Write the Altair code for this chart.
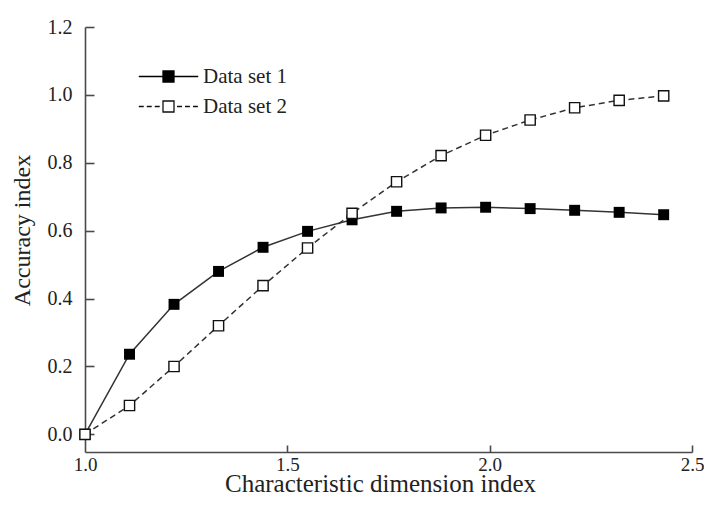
import altair as alt
import pandas as pd

# ---- data ----
x_vals = [1.00, 1.11, 1.22, 1.33, 1.44, 1.55, 1.66, 1.77, 1.88, 1.99, 2.10, 2.21, 2.32, 2.43]
set1 = [0.000, 0.236, 0.383, 0.480, 0.551, 0.598, 0.632, 0.657, 0.667, 0.669, 0.665, 0.660, 0.654, 0.647]
set2 = [0.000, 0.085, 0.200, 0.320, 0.438, 0.549, 0.651, 0.744, 0.821, 0.881, 0.926, 0.962, 0.984, 0.997]
series_names = ["Data set 1", "Data set 2"]
x_ticks = [1.0, 1.5, 2.0, 2.5]
x_inner_ticks = [1.5, 2.0, 2.5]
y_ticks = [0.0, 0.2, 0.4, 0.6, 0.8, 1.0, 1.2]
x_title = "Characteristic dimension index"
y_title = "Accuracy index"

df = pd.DataFrame(
    {"x": x_vals * 2,
     "y": set1 + set2,
     "series": [series_names[0]] * len(x_vals) + [series_names[1]] * len(x_vals)}
)

# ---- style ----
W, H = 607, 425
FONT = "Liberation Serif"
AX = "#4a4a4a"
TXT = "#222222"
LINE = "#333333"

x_scale = alt.Scale(domain=[1.0, 2.5], nice=False, zero=False)
y_scale = alt.Scale(domain=[-0.052, 1.2], nice=False, zero=False)

common_axis = dict(grid=False, ticks=False, tickSize=0, labelFont=FONT,
                   labelColor=TXT, labelFlush=False, labelOverlap=False,
                   domainColor=AX, domainWidth=1.6, titleFont=FONT,
                   titleFontWeight="normal", titleColor=TXT, format=".1f")

x_axis = alt.Axis(values=x_ticks, labelFontSize=19, labelPadding=3, title=x_title,
                  titleX=295, titleY=39, titleFontSize=25, titleBaseline="alphabetic",
                  titleAlign="center", **common_axis)
y_axis = alt.Axis(values=y_ticks, labelFontSize=20, labelPadding=13, title=y_title,
                  titleX=-63, titleY=203, titleFontSize=24, titleBaseline="middle",
                  titleAlign="center", titleAngle=270, **common_axis)

x_in_axis = alt.Axis(orient="top", offset=-H, values=x_inner_ticks, labels=False, ticks=True,
                     tickSize=7, tickColor=AX, tickWidth=1.6, domain=False, grid=False, title=None)
y_in_axis = alt.Axis(orient="right", offset=-W, values=y_ticks, labels=False, ticks=True,
                     tickSize=9, tickColor=AX, tickWidth=1.6, domain=False, grid=False, title=None)


def dash_segments(a, b, dash, gap):
    parts = []
    pos = a
    while pos < b - 1e-9:
        end = min(pos + dash, b)
        parts.append(f"M{pos:.3f},0H{end:.3f}")
        pos = end + gap
    return "".join(parts)


SQ = "M-1,-1H1V1H-1Z"
path_solid = "M-5.4,0H5.4" + SQ
path_dashed = dash_segments(-5.4, -1.45, 0.9, 0.55) + dash_segments(1.55, 5.4, 0.9, 0.55) + SQ

leg_common = dict(title=None, orient="none", symbolSize=121, symbolStrokeColor="black",
                  symbolStrokeWidth=1.3, labelFont=FONT, labelFontSize=21, labelColor=TXT,
                  labelOffset=24, padding=0)

base = alt.Chart(df).encode(
    x=alt.X("x:Q", scale=x_scale, axis=x_axis),
    y=alt.Y("y:Q", scale=y_scale, axis=y_axis),
)

line1 = base.transform_filter(alt.datum.series == series_names[0]).mark_line(
    color=LINE, strokeWidth=1.5)
line2 = base.transform_filter(alt.datum.series == series_names[1]).mark_line(
    color=LINE, strokeWidth=1.5, strokeDash=[6, 4])

pts1 = base.transform_filter(alt.datum.series == series_names[0]).mark_square(
    size=120, filled=True, opacity=1).encode(
    color=alt.Color("series:N",
                    scale=alt.Scale(domain=[series_names[0]], range=["black"]),
                    legend=alt.Legend(legendX=73, legendY=39, symbolType=path_solid,
                                      symbolFillColor="black", **leg_common)))
pts2 = base.transform_filter(alt.datum.series == series_names[1]).mark_point(
    shape="square", size=105, filled=False, fill="white", fillOpacity=1,
    strokeWidth=1.4, opacity=1).encode(
    color=alt.Color("series:N",
                    scale=alt.Scale(domain=[series_names[1]], range=["#111111"]),
                    legend=alt.Legend(legendX=73, legendY=69, symbolType=path_dashed,
                                      symbolFillColor="white", **leg_common)))

inner = alt.layer(line1, line2, pts1, pts2).resolve_scale(color="independent")

tick_layer = alt.Chart(df).mark_point(opacity=0).encode(
    x=alt.X("x:Q", scale=x_scale, axis=x_in_axis),
    y=alt.Y("y:Q", scale=y_scale, axis=y_in_axis),
)

chart = alt.layer(inner, tick_layer).resolve_axis(x="independent", y="independent").properties(
    width=W, height=H,
    autosize=alt.AutoSizeParams(type="none"),
    padding={"left": 77, "top": 19, "right": 12, "bottom": 45},
    background="white",
).configure_view(stroke=None)

chart.save("out.html", embed_options={"renderer": "svg", "actions": False})
